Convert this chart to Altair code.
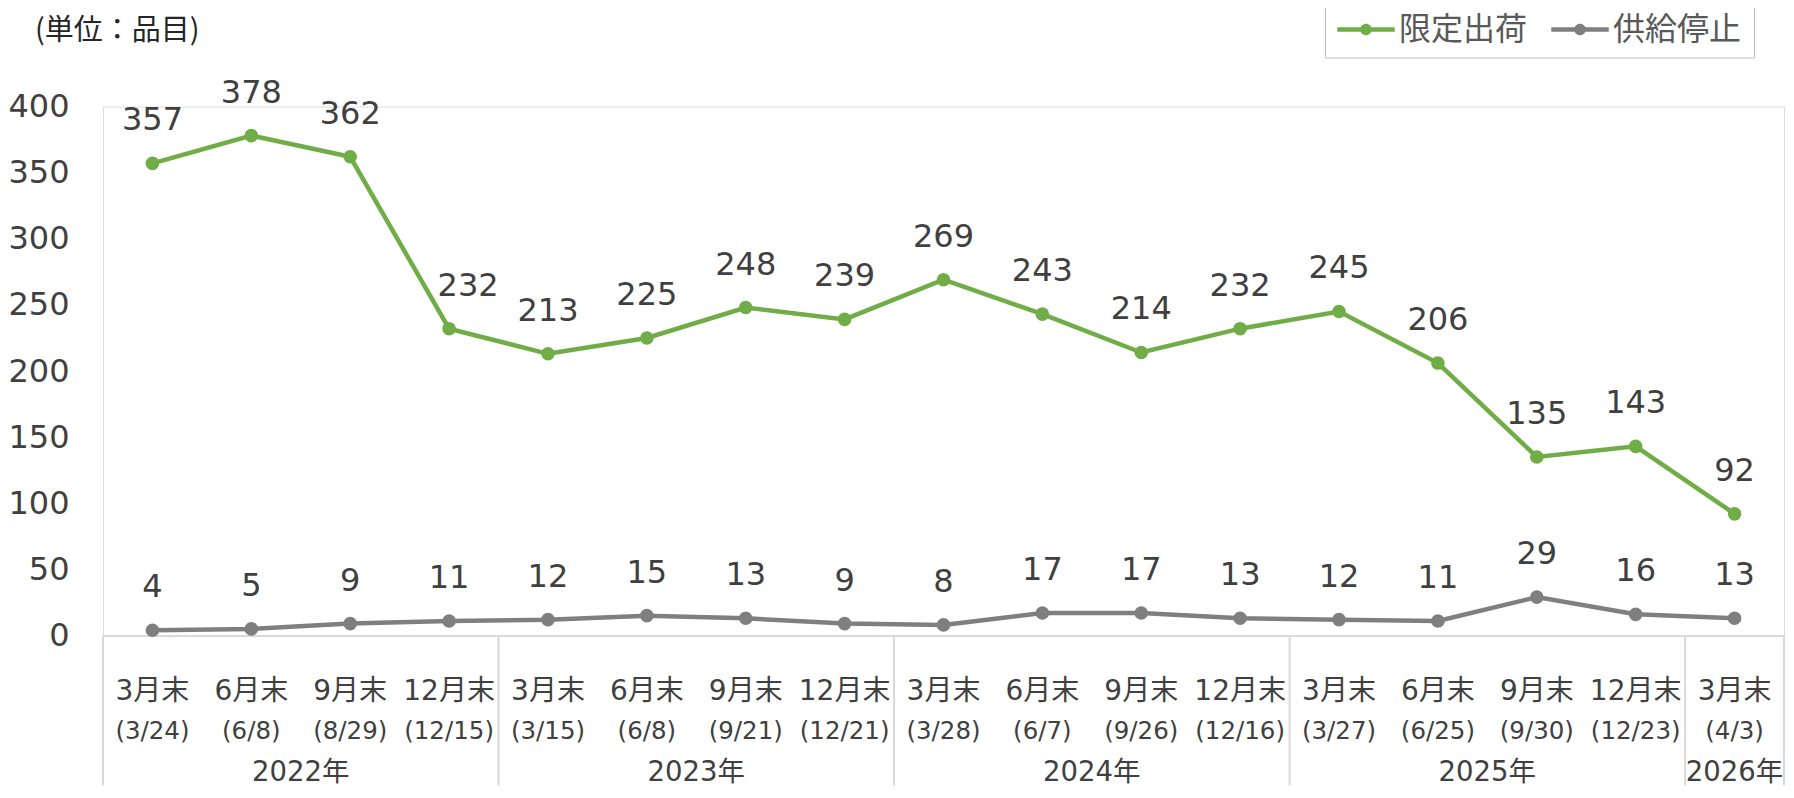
import altair as alt
import pandas as pd

# ---- data ----
title_text = "(単位：品目)"
months = ["3月末", "6月末", "9月末", "12月末"] * 4 + ["3月末"]
dates = ["(3/24)", "(6/8)", "(8/29)", "(12/15)",
         "(3/15)", "(6/8)", "(9/21)", "(12/21)",
         "(3/28)", "(6/7)", "(9/26)", "(12/16)",
         "(3/27)", "(6/25)", "(9/30)", "(12/23)",
         "(4/3)"]
years = ["2022年", "2023年", "2024年", "2025年", "2026年"]
year_counts = [4, 4, 4, 4, 1]
limited = [357, 378, 362, 232, 213, 225, 248, 239, 269, 243, 214, 232, 245, 206, 135, 143, 92]
stopped = [4, 5, 9, 11, 12, 15, 13, 9, 8, 17, 17, 13, 12, 11, 29, 16, 13]
series_names = ["限定出荷", "供給停止"]
series_colors = ["#70AD47", "#7F7F7F"]
y_ticks = [0, 50, 100, 150, 200, 250, 300, 350, 400]

# ---- tables ----
n = len(months)
rows = []
for name, vals in zip(series_names, [limited, stopped]):
    for i, v in enumerate(vals):
        rows.append({"idx": i, "series": name, "value": v})
df = pd.DataFrame(rows)
cat_df = pd.DataFrame({"idx": list(range(n)), "month": months, "date": dates})

bounds = [-0.5]
centers = []
for c in year_counts:
    start = bounds[-1]
    bounds.append(start + c)
    centers.append(start + c / 2)
year_df = pd.DataFrame({"year": years, "center": centers})
sep_df = pd.DataFrame({"b": bounds})
title_df = pd.DataFrame({"t": [title_text]})

W, H = 1681, 529
FONT = "DejaVu Sans, Noto Sans CJK JP, sans-serif"
CJK = "Noto Sans CJK JP, sans-serif"
TXT = "#404040"

xs = alt.Scale(domain=[-0.5, n - 0.5], nice=False, zero=False)
ys = alt.Scale(domain=[0, 400], nice=False)
cs = alt.Scale(domain=series_names, range=series_colors)

legend_path = ("M -1 -0.075 H 1 V 0.075 H -1 Z "
               "M 0.2 0 A 0.2 0.2 0 1 1 -0.2 0 A 0.2 0.2 0 1 1 0.2 0 Z")

x_enc = alt.X("idx:Q", scale=xs,
              axis=alt.Axis(labels=False, ticks=False, grid=False, title=None,
                            domainColor="#D9D9D9", domainWidth=2))
y_enc = alt.Y("value:Q", scale=ys,
              axis=alt.Axis(values=y_ticks, domain=False, ticks=False, tickSize=0,
                            grid=False, title=None, labelFontSize=32,
                            labelColor=TXT, labelFont=FONT, labelPadding=34))

lines = alt.Chart(df).mark_line(strokeWidth=4.5).encode(
    x=x_enc, y=y_enc,
    color=alt.Color("series:N", scale=cs, sort=series_names, legend=None),
    detail="series:N",
)

points = alt.Chart(df).mark_circle(size=185, opacity=1).encode(
    x=alt.X("idx:Q", scale=xs), y=alt.Y("value:Q", scale=ys),
    color=alt.Color("series:N", scale=cs, sort=series_names,
                    legend=alt.Legend(
                        orient="none", legendX=1222, legendY=-118,
                        direction="horizontal", title=None,
                        labelFontSize=32, labelColor="#595959", labelFont=CJK,
                        symbolType=legend_path, symbolSize=3300,
                        symbolStrokeWidth=0, symbolOpacity=1,
                        labelOffset=4, columnPadding=23,
                        padding=12, strokeColor="#BFBFBF", fillColor="white")),
)

shifted = "datum.series == '限定出荷' && datum.idx == 3"

labels = alt.Chart(df).transform_filter(f"!({shifted})").mark_text(
    dy=-43, fontSize=32, font=FONT, color=TXT
).encode(
    x=alt.X("idx:Q", scale=xs), y=alt.Y("value:Q", scale=ys), text="value:Q",
)
labels_shifted = alt.Chart(df).transform_filter(shifted).mark_text(
    dy=-43, dx=19, fontSize=32, font=FONT, color=TXT
).encode(
    x=alt.X("idx:Q", scale=xs), y=alt.Y("value:Q", scale=ys), text="value:Q",
)

seps = alt.Chart(sep_df).mark_rule(color="#D9D9D9", strokeWidth=2).encode(
    x=alt.X("b:Q", scale=xs), y=alt.value(H), y2=alt.value(H + 150),
)

row1 = alt.Chart(cat_df).mark_text(fontSize=28, font=FONT, color=TXT).encode(
    x=alt.X("idx:Q", scale=xs), y=alt.value(H + 56), text="month:N",
)
row2 = alt.Chart(cat_df).mark_text(fontSize=24.5, font=FONT, color=TXT).encode(
    x=alt.X("idx:Q", scale=xs), y=alt.value(H + 96), text="date:N",
)
row3 = alt.Chart(year_df).mark_text(fontSize=27.5, font=FONT, color=TXT).encode(
    x=alt.X("center:Q", scale=xs), y=alt.value(H + 137), text="year:N",
)

title = alt.Chart(title_df).mark_text(
    fontSize=29, font=CJK, color="#262626", align="left", baseline="middle"
).encode(x=alt.value(-68), y=alt.value(-76), text="t:N")

chart = alt.layer(seps, lines, points, labels, labels_shifted,
                  row1, row2, row3, title).resolve_legend(
    color="independent"
).properties(
    width=W, height=H,
    autosize=alt.AutoSizeParams(type="none"),
    padding={"left": 95, "top": 98.5, "right": 2, "bottom": 150},
).configure_view(stroke=None).configure(background="white")

chart.save("out.html", embed_options={"renderer": "svg", "actions": False})
